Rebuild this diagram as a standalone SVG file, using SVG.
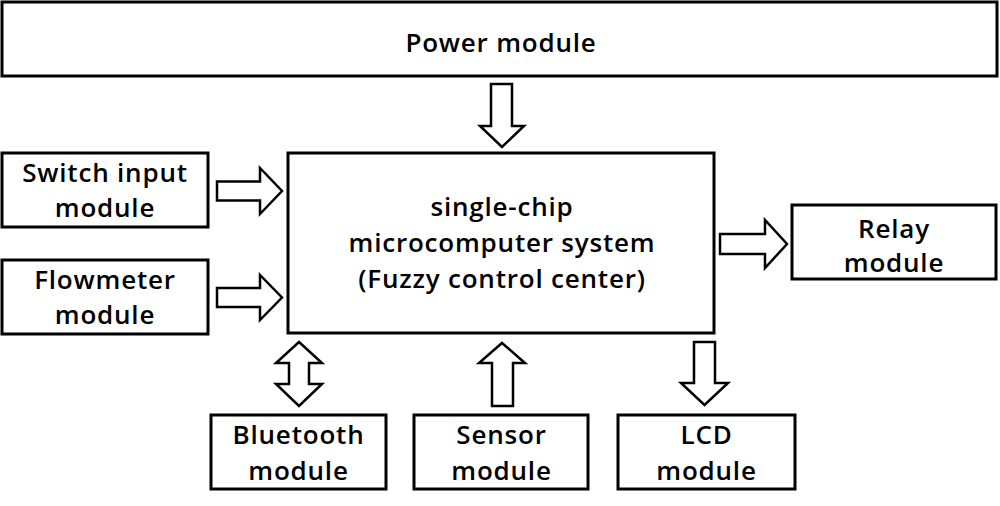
<svg xmlns="http://www.w3.org/2000/svg" width="1000" height="506" viewBox="0 0 1000 506">
<style>
.box{fill:#fff;stroke:#000;stroke-width:3}
.arr{fill:#fff;stroke:#000;stroke-width:2.5;stroke-linejoin:miter}
text{font-family:"Open Sans","Noto Sans",sans-serif;font-weight:600;font-size:26px;letter-spacing:0.8px;fill:#000;text-anchor:middle}
</style>
<rect width="1000" height="506" fill="#fff"/>
<g id="power"><rect class="box" x="2" y="2" width="995" height="74"/><text x="501" y="52">Power module</text></g>
<g id="switch"><rect class="box" x="2" y="153" width="206" height="74"/><text x="105" y="182">Switch input</text><text x="105" y="217">module</text></g>
<g id="flowmeter"><rect class="box" x="2" y="260" width="206" height="74"/><text x="105" y="289">Flowmeter</text><text x="105" y="324">module</text></g>
<g id="mcu"><rect class="box" x="288" y="153" width="426" height="180"/><text x="502" y="216">single-chip</text><text x="502" y="252">microcomputer system</text><text x="502" y="287.5">(Fuzzy control center)</text></g>
<g id="relay"><rect class="box" x="792" y="205" width="204" height="74"/><text x="894" y="238">Relay</text><text x="894" y="272">module</text></g>
<g id="bluetooth"><rect class="box" x="211" y="415" width="175" height="74"/><text x="298.5" y="444">Bluetooth</text><text x="298.5" y="479.5">module</text></g>
<g id="sensor"><rect class="box" x="414" y="415" width="174" height="74"/><text x="501.5" y="444">Sensor</text><text x="501.5" y="479.5">module</text></g>
<g id="lcd"><rect class="box" x="618" y="415" width="177" height="74"/><text x="706.5" y="444">LCD</text><text x="706.5" y="479.5">module</text></g>
<g id="connectors">
<path class="arr" d="M491,84 H512 V126 H524 L502,147 L480,126 H491 Z"/>
<path class="arr" d="M217,181.5 H260 V168 L282,191 L260,214 V200.5 H217 Z"/>
<path class="arr" d="M217,288 H260 V275 L282,297.5 L260,320 V307 H217 Z"/>
<path class="arr" d="M720,234 H765 V220 L787,244 L765,268 V254 H720 Z"/>
<path class="arr" d="M299,342 L322,363 H309 V384 H322 L299,406 L276,384 H289 V363 H276 Z"/>
<path class="arr" d="M502,343 L525,363 H513 V406 H492 V363 H479 Z"/>
<path class="arr" d="M694,342 H715 V383 H728 L704.5,405 L681,383 H694 Z"/>
</g>
</svg>
